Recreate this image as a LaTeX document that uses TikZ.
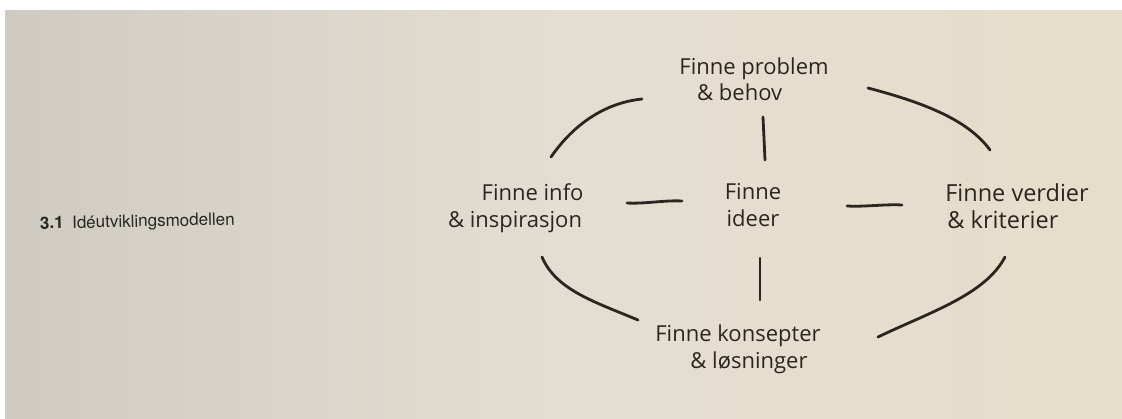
\documentclass[tikz,border=0pt]{standalone}
\usepackage{fontspec}
\setmainfont{Open Sans}
\newfontfamily\capfont{TeX Gyre Heros}
\definecolor{paperL}{RGB}{208,203,194}
\definecolor{paperM}{RGB}{228,222,210}
\definecolor{paperR}{RGB}{230,221,202}
\definecolor{ink}{RGB}{44,37,31}
\definecolor{capink}{RGB}{40,38,36}
\tikzset{
  hand/.style={font=\fontsize{22}{27}\selectfont, text=ink, align=center, inner sep=0pt},
  stroke/.style={draw=ink, line width=2.8pt, line cap=round, line join=round},
}
\begin{document}
\begin{tikzpicture}[x=1pt,y=-1pt]
\useasboundingbox (0,0) rectangle (1122,418);
\fill[white] (0,0) rectangle (1122,418);
\shade[left color=paperL, right color=paperR, middle color=paperM, shading angle=90] (5,10) rectangle (1122,418);
% caption
\node[anchor=base west, inner sep=0pt, text=capink, font=\capfont\fontsize{17}{21}\selectfont, rotate=1.2] (cap) at (40,229) {\textbf{3.1}\hspace{0.5em}Idéutviklingsmodellen};
% nodes
\node[hand] (top) at (754,79) {Finne problem\\[-1pt]\hspace*{-1.3em}\& behov};
\node[hand] (left) at (515,208) {\hspace*{1.6em}Finne info\\\& inspirasjon};
\node[hand] (mid) at (753,205) {Finne\\ideer};
\node[hand, font=\fontsize{23.5}{27}\selectfont] (right) at (1017,206) {Finne verdier\\\hspace*{-1.2em}\& kriterier};
\node[hand] (bot) at (738,349) {Finne konsepter\\\hspace*{1em}\& løsninger};
% connector end points
\coordinate (tl1) at (551,157); \coordinate (tl2) at (642,99);
\coordinate (tr1) at (868,88);  \coordinate (tr2) at (990,150);
\coordinate (bl1) at (542,257); \coordinate (bl2) at (638,320);
\coordinate (br1) at (1005,257); \coordinate (br2) at (878,337);
\coordinate (tc1) at (763,117); \coordinate (tc2) at (765,160);
\coordinate (bc1) at (760,258); \coordinate (bc2) at (760,300);
\coordinate (lc1) at (627,203); \coordinate (lc2) at (682,201);
\coordinate (rc1) at (847,206); \coordinate (rc2) at (902,205);
% connectors
\draw[stroke] (tl1) .. controls (578,118) and (612,102) .. (tl2);
\draw[stroke] (tr1) .. controls (925,103) and (968,120) .. (tr2);
\draw[stroke] (bl1) .. controls (556,290) and (595,302) .. (bl2);
\draw[stroke] (br1) .. controls (985,295) and (930,312) .. (br2);
\draw[stroke] (tc1) -- (tc2);
\draw[stroke] (bc1) -- (bc2);
\draw[stroke] (lc1) .. controls (645,204) and (665,200) .. (lc2);
\draw[stroke] (rc1) .. controls (865,207) and (885,204) .. (rc2);
\end{tikzpicture}
\end{document}
